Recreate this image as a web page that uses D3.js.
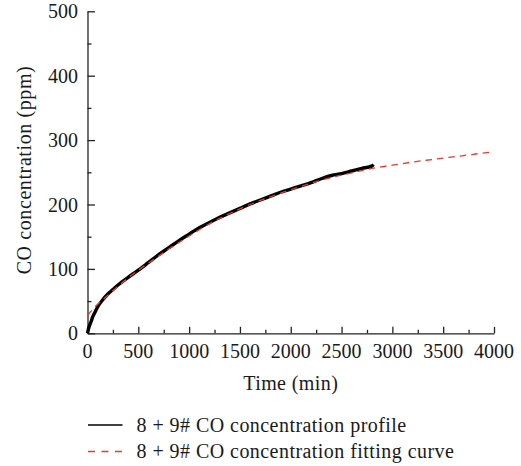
<!DOCTYPE html>
<html>
<head>
<meta charset="utf-8">
<script src="https://cdn.jsdelivr.net/npm/d3@7/dist/d3.min.js"></script>
</head>
<body style="margin:0">
<svg id="chart" width="521" height="466"></svg>
<script>
// Measured CO concentration (ppm) over time (min)
const profileTime = [0, 10, 20, 35, 50, 75, 100, 150, 200, 250, 300, 400, 500, 600, 700, 800, 900,
  1000, 1100, 1200, 1300, 1400, 1500, 1600, 1700, 1800, 1900, 2000, 2100, 2200, 2300, 2400,
  2500, 2600, 2700, 2800, 2815];
const profileValue = [0, 7, 12, 18, 25, 33, 41, 52, 61, 68, 75, 87, 98, 110, 122, 133, 144,
  154, 164, 172, 180, 187, 194, 201, 207, 213, 219, 224, 229, 234, 240, 245,
  248, 252, 256, 260, 262];

// Fitted CO concentration curve, extended to 4000 min
const fitTime = [0, 50, 100, 200, 300, 400, 500, 600, 700, 800, 900, 1000, 1200, 1400, 1600,
  1800, 2000, 2200, 2400, 2600, 2800, 3000, 3200, 3400, 3600, 3800, 4000];
const fitValue = [28, 37, 45, 59, 73, 86, 98, 109, 120, 131, 141, 151, 170, 186, 200,
  212, 223, 233, 242, 249, 256, 261, 266, 270, 274, 278, 282];

const xTicks = [0, 500, 1000, 1500, 2000, 2500, 3000, 3500, 4000];
const yTicks = [0, 100, 200, 300, 400, 500];

const seriesNames = ["8 + 9# CO concentration profile", "8 + 9# CO concentration fitting curve"];
const axisTitles = { x: "Time (min)", y: "CO concentration (ppm)" };

const FONT = "Liberation Serif";

const svg = d3.select("#chart");
const plotLeft = 87.5, plotRight = 494, plotTop = 11.3, plotBottom = 333.3;

const x = d3.scaleLinear().domain([0, 4000]).range([plotLeft, plotRight]);
const y = d3.scaleLinear().domain([0, 500]).range([plotBottom, plotTop]);

const axisColor = "#222";

// serif label; align: 0 = start, 0.5 = centre, 1 = end (measured width)
function label(str, px, py, align, spacing) {
  const t = svg.append("text")
    .attr("x", px)
    .attr("y", py)
    .style("font-family", FONT)
    .attr("font-size", 20)
    .attr("fill", "#1a1a1a")
    .attr("letter-spacing", spacing || 0)
    .text(str);
  const w = t.node().getComputedTextLength();
  t.attr("x", px - w * align);
  return t;
}

// minor ticks
const xMinor = d3.range(0, 4001, 250).filter(v => v % 500 !== 0);
const yMinor = d3.range(0, 501, 50).filter(v => v % 100 !== 0);

svg.append("g")
  .attr("transform", `translate(0,${plotBottom})`)
  .call(d3.axisBottom(x).tickValues(xMinor).tickSize(-3.5).tickFormat(""))
  .call(g => g.select(".domain").remove());
svg.append("g")
  .attr("transform", `translate(${plotLeft},0)`)
  .call(d3.axisLeft(y).tickValues(yMinor).tickSize(-4).tickFormat(""))
  .call(g => g.select(".domain").remove());

// major ticks and axis lines (labels drawn separately below)
svg.append("g")
  .attr("transform", `translate(0,${plotBottom})`)
  .call(d3.axisBottom(x).tickValues(xTicks).tickSizeInner(-6.5).tickSizeOuter(0).tickFormat(""));
svg.append("g")
  .attr("transform", `translate(${plotLeft},0)`)
  .call(d3.axisLeft(y).tickValues(yTicks).tickSizeInner(-7.5).tickSizeOuter(0).tickFormat(""));

svg.selectAll(".domain, .tick line")
  .attr("stroke", axisColor)
  .attr("stroke-width", 1.3);
svg.selectAll(".tick text").remove();

// tick labels
xTicks.forEach(v => label(String(v), x(v), 357.5, 0.5));
yTicks.forEach(v => label(String(v), 78, y(v) + 7, 1));

// axis titles
label(axisTitles.x, (plotLeft + plotRight) / 2, 390, 0.5, 0.4);

const yTitle = svg.append("text")
  .attr("x", 0)
  .attr("y", 0)
  .style("font-family", FONT)
  .attr("font-size", 20)
  .attr("fill", "#1a1a1a")
  .attr("letter-spacing", 0.6)
  .text(axisTitles.y);
const yTitleW = yTitle.node().getComputedTextLength();
yTitle.attr("transform", `translate(31,${170 + yTitleW / 2}) rotate(-90)`);

// data lines
const profile = profileTime.map((t, i) => [t, profileValue[i]]);
const fit = fitTime.map((t, i) => [t, fitValue[i]]);
const line = d3.line().x(d => x(d[0])).y(d => y(d[1])).curve(d3.curveMonotoneX);

svg.append("path")
  .datum(profile)
  .attr("fill", "none")
  .attr("stroke", "#000")
  .attr("stroke-width", 3.4)
  .attr("stroke-linejoin", "round")
  .attr("d", line);

svg.append("path")
  .datum(fit)
  .attr("fill", "none")
  .attr("stroke", "#e8392c")
  .attr("stroke-width", 1.3)
  .attr("stroke-dasharray", "6.5,5")
  .attr("d", line);

// legend
const legendRows = [
  { name: seriesNames[0], color: "#000", dash: null, y: 425 },
  { name: seriesNames[1], color: "#e8392c", dash: "7,6.5", y: 451.5 }
];
legendRows.forEach(r => {
  svg.append("line")
    .attr("x1", 88).attr("x2", 122.5)
    .attr("y1", r.y).attr("y2", r.y)
    .attr("stroke", r.color)
    .attr("stroke-width", 1.3)
    .attr("stroke-dasharray", r.dash);
  label(r.name, 136.5, r.y + 6.5, 0, 0.45);
});
</script>
</body>
</html>
